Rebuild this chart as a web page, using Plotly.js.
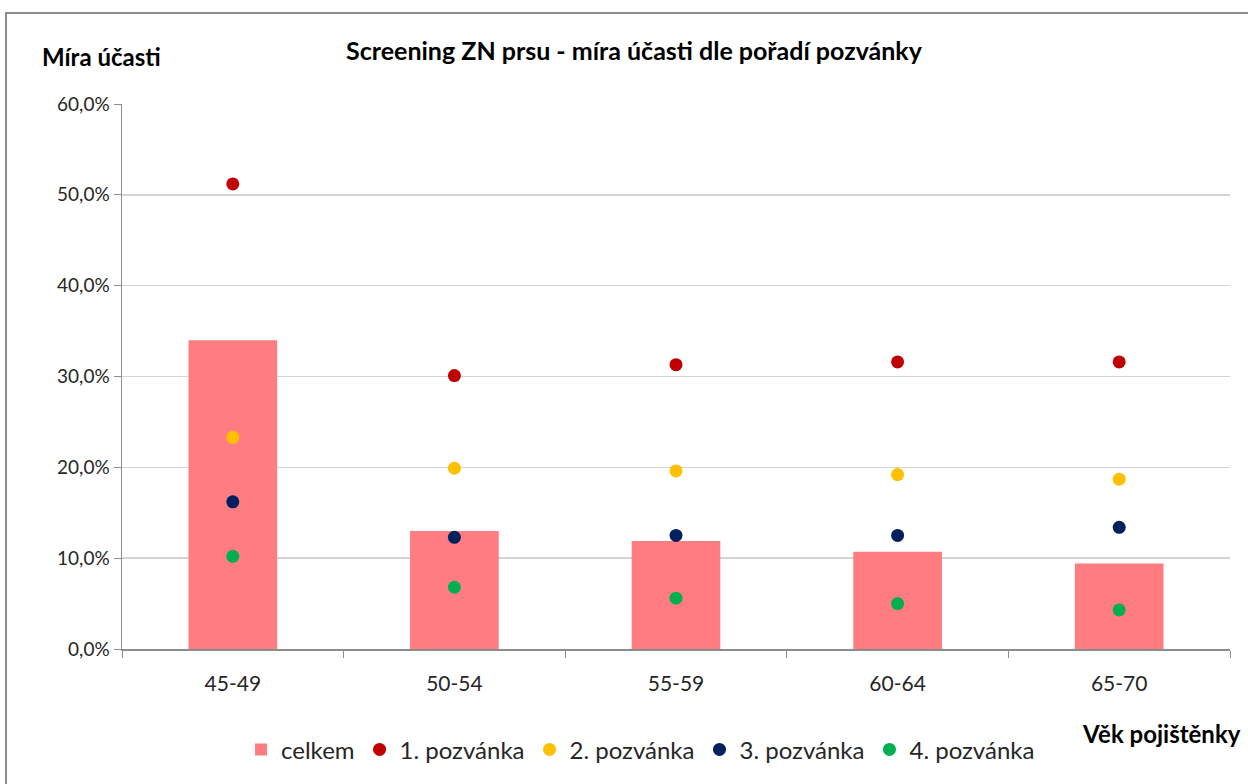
<!DOCTYPE html>
<html>
<head>
<meta charset="utf-8">
<script src="https://cdn.plot.ly/plotly-3.0.1.min.js"></script>
<style>
html,body{margin:0;padding:0;background:#fff;}
#frame{position:absolute;left:5px;top:12px;width:1260px;height:800px;border:2px solid #8c8c8c;box-sizing:border-box;pointer-events:none;z-index:5;}
#chart{position:absolute;left:0;top:0;width:1248px;height:784px;}
</style>
</head>
<body>
<div id="chart"></div>
<div id="frame"></div>
<script>
var categories = ["45-49", "50-54", "55-59", "60-64", "65-70"];
var celkem   = [0.340, 0.130, 0.119, 0.107, 0.094];
var pozv1    = [0.512, 0.301, 0.313, 0.316, 0.316];
var pozv2    = [0.233, 0.199, 0.196, 0.192, 0.187];
var pozv3    = [0.162, 0.123, 0.125, 0.125, 0.134];
var pozv4    = [0.102, 0.068, 0.056, 0.050, 0.043];
var seriesNames = ["celkem", "1. pozvánka", "2. pozvánka", "3. pozvánka", "4. pozvánka"];
var yTicks = [0, 0.1, 0.2, 0.3, 0.4, 0.5, 0.6];

var FONT = "Lato, 'Open Sans', 'Liberation Sans', sans-serif";
var dotColors = ["#C00000", "#FFC000", "#002060", "#00B050"];
var dotData = [pozv1, pozv2, pozv3, pozv4];

var traces = [{
  type: "bar", x: categories, y: celkem, name: seriesNames[0],
  marker: {color: "#FF7C80"}, width: 0.4, hoverinfo: "skip"
}];
for (var i = 0; i < 4; i++) {
  traces.push({
    type: "scatter", mode: "markers", x: categories, y: dotData[i], name: seriesNames[i + 1],
    marker: {color: dotColors[i], size: 13, symbol: "circle"}, hoverinfo: "skip"
  });
}

var layout = {
  width: 1248, height: 784,
  paper_bgcolor: "#fff", plot_bgcolor: "#fff",
  separators: ", ",
  margin: {l: 122, r: 18, t: 104, b: 135},
  font: {family: FONT, size: 19, color: "#262626"},
  title: {text: "<b>Screening ZN prsu - míra účasti dle pořadí pozvánky</b>",
          font: {family: FONT, size: 25, color: "#000"}, x: 0.508, xanchor: "center", y: 0.934, yanchor: "middle"},
  showlegend: true,
  legend: {orientation: "h", x: 0.468, xanchor: "center", y: -0.185, yanchor: "middle",
           font: {family: FONT, size: 24, color: "#262626"}, itemwidth: 30, tracegroupgap: 0},
  xaxis: {
    type: "category", tickson: "boundaries", ticks: "outside", ticklen: 7, tickcolor: "#8c8c8c",
    showline: true, linecolor: "#8c8c8c", linewidth: 1.5, showgrid: false, ticklabelstandoff: 15,
    tickfont: {family: FONT, size: 21, color: "#262626"}, fixedrange: true
  },
  yaxis: {
    range: [0, 0.6], tickvals: yTicks, tickformat: ".1%",
    ticks: "outside", ticklen: 7, tickcolor: "#8c8c8c",
    showline: true, linecolor: "#8c8c8c", linewidth: 1.5,
    showgrid: true, gridcolor: "#d4d4d4", gridwidth: 1.5, zeroline: false,
    tickfont: {family: FONT, size: 19, color: "#262626"}, fixedrange: true
  },
  annotations: [
    {text: "<b>Míra účasti</b>", xref: "paper", yref: "paper", x: -0.074, y: 1.088, xanchor: "left", yanchor: "middle",
     showarrow: false, font: {family: FONT, size: 24, color: "#000"}},
    {text: "<b>Věk pojištěnky</b>", xref: "paper", yref: "paper", x: 1.012, y: -0.155, xanchor: "right", yanchor: "middle",
     showarrow: false, font: {family: FONT, size: 24, color: "#000"}}
  ]
};

Plotly.newPlot("chart", traces, layout, {displayModeBar: false, staticPlot: true});
</script>
</body>
</html>
